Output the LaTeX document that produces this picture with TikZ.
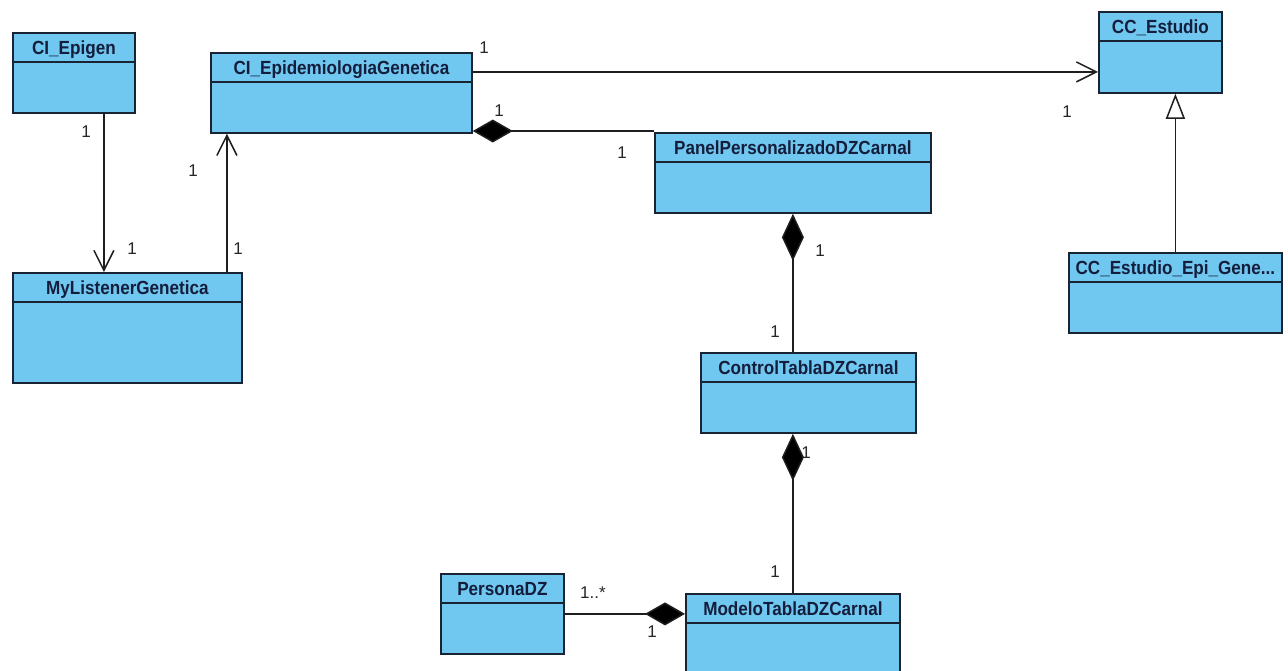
\documentclass[tikz,border=0pt]{standalone}
\usepackage{fontspec}
\setmainfont{Liberation Sans}
\newfontfamily\titlefont{Liberation Sans}[FakeStretch=0.9]
\usetikzlibrary{arrows.meta,calc}

\definecolor{classfill}{RGB}{112,199,240}
\definecolor{classline}{RGB}{25,35,50}
\definecolor{titleink}{RGB}{20,30,60}
\definecolor{wire}{RGB}{30,30,30}

\tikzset{
  umlclass/.style={draw=classline, fill=classfill, line width=1.8pt, rectangle,
                   anchor=north west, inner sep=0pt},
  classtitle/.style={font=\titlefont\bfseries\fontsize{19}{19}\selectfont,
                     text=titleink, inner sep=0pt, anchor=base},
  mult/.style={font=\fontsize{17}{17}\selectfont, text=black!85, inner sep=0pt},
  assoc/.style={draw=wire, line width=1.5pt,
                -{Straight Barb[length=20pt,width=20pt]}},
  comp/.style={draw=wire, line width=1.5pt,
               -{Diamond[length=40pt,width=23pt,fill=black]}},
  longcomp/.style={draw=wire, line width=1.5pt,
               -{Diamond[length=47pt,width=22pt,fill=black]}},
  generalize/.style={draw=wire, line width=1.5pt,
                     -{Triangle[length=25pt,width=19pt,fill=white]}}
}

% class box: name, left, top, width, height, title
\newcommand\umlbox[6]{%
  \node[umlclass, minimum width=#4pt, minimum height=#5pt] (#1) at (#2,#3) {};
  \draw[classline, line width=1.8pt]
    ([yshift=-30pt]#1.north west) -- ([yshift=-30pt]#1.north east);
  \node[classtitle] (#1-title) at ([yshift=-22pt]#1.north) {#6};
}

\begin{document}
\begin{tikzpicture}[x=1pt,y=-1pt]
  \useasboundingbox (0,0) rectangle (1288,670);
  \clip (0,0) rectangle (1288,670);
  \fill[white] (0,0) rectangle (1288,670);

  % classes
  \umlbox{epigen}{12}{32}{122}{80}{CI\_Epigen}
  \umlbox{listener}{12}{272}{229}{110}{MyListenerGenetica}
  \umlbox{epi}{210}{52}{261}{80}{CI\_EpidemiologiaGenetica}
  \umlbox{est}{1098}{11}{123}{81}{CC\_Estudio}
  \umlbox{sub}{1068}{252}{213}{80}{CC\_Estudio\_Epi\_Gene...}
  \umlbox{panel}{654}{132}{276}{80}{PanelPersonalizadoDZCarnal}
  \umlbox{control}{700}{352}{215}{80}{ControlTablaDZCarnal}
  \umlbox{modelo}{685}{593}{214}{90}{ModeloTablaDZCarnal}
  \umlbox{persona}{440}{573}{123}{80}{PersonaDZ}

  % associations
  \draw[assoc] ([xshift=30pt]epigen.south) -- ([xshift=30pt]epigen.south |- listener.north);
  \draw[assoc] ([xshift=99.5pt]listener.north) -- ([xshift=99.5pt]listener.north |- epi.south);
  \draw[assoc] ([yshift=21pt]epi.east) -- ([yshift=21pt]epi.east -| est.west);

  % compositions
  \draw[comp] ([yshift=1pt]panel.north west) -- ([yshift=1pt]panel.north west -| epi.east);
  \draw[longcomp] (panel.south |- control.north) -- (panel.south);
  \draw[longcomp] (modelo.north) -- (modelo.north |- control.south);
  \draw[comp] (persona.east) -- (persona.east -| modelo.west);

  % generalization
  \draw[generalize] (sub.north) -- (sub.north |- est.south);

  % multiplicities
  \node[mult] (m1) at (86,132) {1};
  \node[mult] (m2) at (132,249) {1};
  \node[mult] (m3) at (193,171) {1};
  \node[mult] (m4) at (238,249) {1};
  \node[mult] (m5) at (484,48) {1};
  \node[mult] (m6) at (1067,112) {1};
  \node[mult] (m7) at (499,111) {1};
  \node[mult] (m8) at (622,153) {1};
  \node[mult] (m9) at (820,251) {1};
  \node[mult] (m10) at (775,332) {1};
  \node[mult] (m11) at (806,453) {1};
  \node[mult] (m12) at (775,572) {1};
  \node[mult] (m13) at (593,593) {1..*};
  \node[mult] (m14) at (652,632) {1};
\end{tikzpicture}
\end{document}
